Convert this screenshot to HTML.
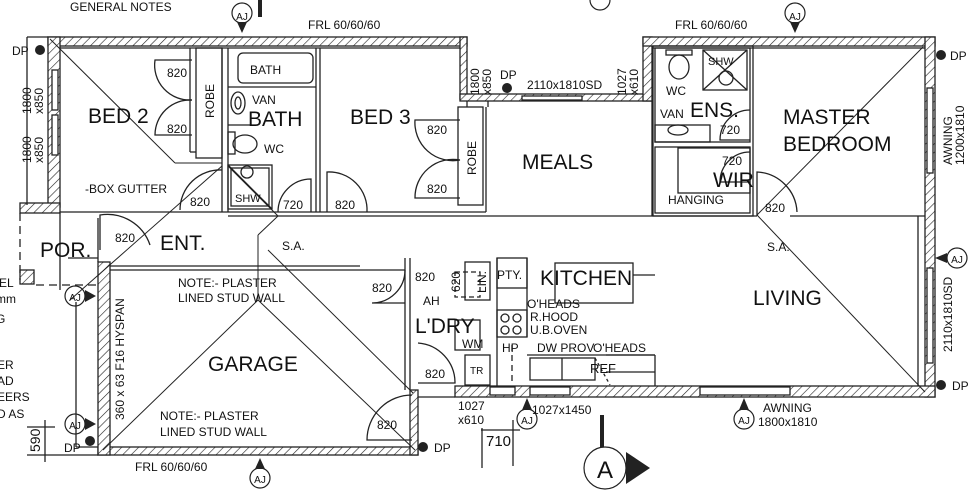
<!DOCTYPE html>
<html><head><meta charset="utf-8"><style>
html,body{margin:0;padding:0;background:#fff;width:976px;height:500px;overflow:hidden}
svg text{font-family:"Liberation Sans",sans-serif;fill:#111}
</style></head><body>
<svg width="976" height="500" viewBox="0 0 976 500" xmlns="http://www.w3.org/2000/svg">
<defs>
<pattern id="h" width="6" height="6" patternUnits="userSpaceOnUse" patternTransform="rotate(45)">
<rect width="6" height="6" fill="#fff"/><line x1="0" y1="0" x2="0" y2="6" stroke="#222" stroke-width="1.2"/></pattern>
</defs>
<g stroke="#222" fill="none" stroke-width="1.3">
<rect x="48" y="37" width="419" height="9" fill="url(#h)"/>
<rect x="48" y="37" width="12" height="170" fill="url(#h)"/>
<rect x="460" y="37" width="7" height="62" fill="url(#h)"/>
<rect x="460" y="94" width="192" height="7" fill="url(#h)"/>
<rect x="643" y="37" width="9" height="64" fill="url(#h)"/>
<rect x="643" y="37" width="292" height="9" fill="url(#h)"/>
<rect x="925" y="37" width="10" height="360" fill="url(#h)"/>
<rect x="455" y="386" width="480" height="11" fill="url(#h)"/>
<rect x="98" y="447" width="320" height="8" fill="url(#h)"/>
<rect x="98" y="262" width="12" height="193" fill="url(#h)"/>
<rect x="410" y="390" width="8" height="65" fill="url(#h)"/>
<rect x="20" y="203" width="40" height="10" fill="url(#h)"/>
<rect x="20" y="270" width="14" height="14" fill="url(#h)"/>
<g fill="#fff">
<rect x="52" y="70" width="6" height="40"/><rect x="52" y="115" width="6" height="40"/>
<rect x="927" y="88" width="6" height="85"/><rect x="927" y="268" width="6" height="95"/>
<rect x="522" y="96" width="60" height="4"/>
<rect x="530" y="387" width="40" height="8"/><rect x="700" y="387" width="90" height="8"/>
<rect x="490" y="387" width="25" height="8"/>
</g>
<line x1="27" y1="37" x2="27" y2="205"/>
<line x1="27" y1="37" x2="48" y2="37"/>
<line x1="76" y1="302" x2="76" y2="447"/><line x1="76" y1="447" x2="98" y2="447"/>
<line x1="418" y1="397" x2="455" y2="397"/>
<line x1="60" y1="48" x2="460" y2="48"/>
<line x1="60" y1="212" x2="228" y2="212"/>
<rect x="196" y="48" width="26" height="110"/>
<line x1="190" y1="48" x2="190" y2="152"/>
<line x1="190" y1="152" x2="196" y2="152"/>
<line x1="222" y1="48" x2="222" y2="212"/><line x1="228" y1="48" x2="228" y2="212"/>
<line x1="316" y1="48" x2="316" y2="212"/><line x1="320" y1="48" x2="320" y2="212"/>
<line x1="228" y1="212" x2="486" y2="212"/><line x1="228" y1="216" x2="757" y2="216"/>
<line x1="790" y1="216" x2="925" y2="216"/>
<rect x="458" y="107" width="25" height="98"/>
<line x1="486" y1="107" x2="486" y2="212"/><line x1="488" y1="107" x2="488" y2="101"/>
<line x1="467" y1="101" x2="467" y2="107"/>
<rect x="238" y="53" width="75" height="30" rx="5"/>
<line x1="228" y1="87" x2="316" y2="87"/>
<ellipse cx="238" cy="103" rx="7" ry="11"/><ellipse cx="238" cy="103" rx="3" ry="6"/>
<line x1="228" y1="125" x2="252" y2="125"/>
<rect x="228" y="132" width="7" height="22"/><ellipse cx="245" cy="144" rx="12" ry="9"/>
<rect x="228" y="165" width="44" height="44"/><rect x="231" y="168" width="38" height="38"/>
<circle cx="247" cy="172" r="6"/><line x1="228" y1="165" x2="272" y2="209"/>
<path d="M192 60 H155 A35 35 0 0 0 192 100"/><path d="M192 135 H155 A35 35 0 0 1 192 100"/>
<path d="M460 120 H415 A38 38 0 0 0 460 160"/><path d="M460 198 H415 A38 38 0 0 1 460 160"/>
<path d="M222 170 A40 40 0 0 0 180 210"/>
<path d="M278 212 A33 33 0 0 1 311 179 V212"/>
<path d="M327 212 V172 A38 38 0 0 1 367 212"/>
<path d="M100 250 V215 A45 45 0 0 1 150 245"/>
<path d="M405 270 A33 33 0 0 1 372 303 H405"/>
<path d="M418 343 A40 40 0 0 1 455 383 H418"/>
<path d="M412 395 A45 45 0 0 0 367 440 H412"/>
<path d="M750 152 A30 30 0 0 0 720 182 H750"/>
<path d="M750 110 A30 30 0 0 0 720 140 H750"/>
<path d="M757 216 V172 A42 42 0 0 1 797 212"/>
<line x1="652" y1="48" x2="925" y2="48"/>
<rect x="655" y="48" width="95" height="94"/><rect x="655" y="147" width="95" height="66"/>
<rect x="653" y="46" width="100" height="170"/>
<rect x="703" y="50" width="44" height="40"/><line x1="703" y1="90" x2="747" y2="50"/><line x1="703" y1="50" x2="747" y2="90"/>
<circle cx="726" cy="78" r="7"/>
<rect x="666" y="50" width="26" height="5"/><ellipse cx="679" cy="67" rx="10" ry="12"/>
<rect x="655" y="125" width="55" height="17"/><ellipse cx="678" cy="130" rx="10" ry="5"/>
<rect x="678" y="148" width="72" height="45"/>
<line x1="652" y1="101" x2="652" y2="216"/>
<line x1="918" y1="216" x2="918" y2="386"/>
<line x1="110" y1="270" x2="405" y2="270"/>
<line x1="110" y1="266" x2="360" y2="266"/>
<line x1="60" y1="213" x2="60" y2="290"/>
<line x1="98" y1="218" x2="98" y2="262"/>
<line x1="68" y1="258" x2="98" y2="258"/>
<line x1="36" y1="285" x2="98" y2="285" stroke-dasharray="8 5"/>
<line x1="20" y1="213" x2="20" y2="280" stroke-dasharray="8 5"/>
<line x1="405" y1="258" x2="405" y2="390"/><line x1="410" y1="258" x2="410" y2="390"/>
<rect x="465" y="262" width="25" height="38"/>
<rect x="497" y="258" width="30" height="30"/>
<line x1="497" y1="258" x2="497" y2="386"/><line x1="527" y1="258" x2="527" y2="337"/>
<rect x="497" y="310" width="30" height="27"/>
<circle cx="505" cy="318" r="4"/><circle cx="517" cy="318" r="4"/><circle cx="505" cy="330" r="4"/><circle cx="517" cy="330" r="4"/>
<line x1="512" y1="345" x2="512" y2="384" stroke-dasharray="6 4"/>
<line x1="527" y1="355" x2="655" y2="355"/>
<rect x="530" y="358" width="65" height="22"/><line x1="562" y1="358" x2="562" y2="380"/>
<line x1="595" y1="358" x2="610" y2="385" stroke-dasharray="3 3"/>
<path d="M606 355 H655 M606 372 H655 M655 355 V386" />
<rect x="555" y="263" width="78" height="40"/>
<line x1="633" y1="275" x2="655" y2="275"/>
<rect x="455" y="320" width="25" height="30"/><rect x="465" y="355" width="25" height="30"/>
<rect x="455" y="272" width="25" height="25" stroke-dasharray="5 3"/>
<!-- dims -->
<line x1="27" y1="427" x2="55" y2="427"/><line x1="27" y1="455" x2="98" y2="455"/><line x1="45" y1="420" x2="45" y2="462"/>
<line x1="481" y1="430" x2="520" y2="430"/><line x1="482" y1="428" x2="482" y2="468"/><line x1="513" y1="420" x2="513" y2="466"/>
<g stroke-width="1">
<line x1="50" y1="39" x2="175" y2="163"/><line x1="175" y1="163" x2="222" y2="163"/>
<line x1="222" y1="166" x2="70" y2="300"/>
<line x1="228" y1="166" x2="278" y2="216"/>
<line x1="278" y1="216" x2="258" y2="235"/><line x1="258" y1="235" x2="258" y2="300"/>
<line x1="268" y1="250" x2="413" y2="393"/>
<line x1="258" y1="300" x2="103" y2="450"/><line x1="258" y1="300" x2="415" y2="450"/>
<line x1="923" y1="47" x2="757" y2="215"/><line x1="757" y1="215" x2="925" y2="392"/>
</g>
</g>
<g fill="#222"><circle cx="40" cy="50" r="5"/><circle cx="507" cy="88" r="5"/><circle cx="941" cy="55" r="5"/>
<circle cx="941" cy="385" r="5"/><circle cx="423" cy="447" r="5"/><circle cx="90" cy="441" r="5"/></g>
<g stroke="#222" fill="none" stroke-width="1.2">
<circle cx="242" cy="13" r="10"/><circle cx="795" cy="13" r="10"/><circle cx="957" cy="258" r="10"/>
<circle cx="75" cy="296" r="10"/><circle cx="75" cy="424" r="10"/><circle cx="260" cy="478" r="10"/>
<circle cx="527" cy="419" r="10"/><circle cx="744" cy="419" r="10"/>
<circle cx="605" cy="468" r="21"/>
</g>
<g fill="#222"><polygon points="237,22 247,22 242,33"/><polygon points="790,22 800,22 795,33"/>
<polygon points="947,253 947,263 935,258"/><polygon points="85,290 85,302 96,296"/><polygon points="85,418 85,430 96,424"/>
<polygon points="255,469 265,469 260,458"/><polygon points="522,410 532,410 527,398"/><polygon points="739,410 749,410 744,398"/>
<polygon points="626,452 650,468 626,484"/>
<rect x="258" y="0" width="4" height="17"/><rect x="600" y="415" width="4" height="32"/>
</g>
<circle cx="600" cy="0" r="10" stroke="#222" fill="none" stroke-width="1.2"/>
<g font-size="12">
<text x="70" y="11">GENERAL NOTES</text>
<text x="308" y="29">FRL 60/60/60</text><text x="675" y="29">FRL 60/60/60</text>
<text x="135" y="471">FRL 60/60/60</text>
<text x="12" y="55">DP</text><text x="500" y="79">DP</text><text x="950" y="60">DP</text>
<text x="952" y="390">DP</text><text x="434" y="452">DP</text><text x="64" y="452">DP</text>
<text x="527" y="89">2110x1810SD</text>
<text x="85" y="193">-BOX GUTTER</text>
<text x="593" y="352">O'HEADS</text><text x="537" y="352">DW PROV</text>
<text x="590" y="373" font-size="13">REF</text>
<text x="527" y="308">O'HEADS</text><text x="530" y="321">R.HOOD</text><text x="530" y="334">U.B.OVEN</text>
<text x="502" y="352">HP</text><text x="497" y="279">PTY.</text>
<text x="462" y="348">WM</text><text x="470" y="374" font-size="10">TR</text>
<text x="423" y="305">AH</text>
<text x="178" y="287">NOTE:- PLASTER</text><text x="178" y="302">LINED STUD WALL</text>
<text x="160" y="420">NOTE:- PLASTER</text><text x="160" y="436">LINED STUD WALL</text>
<text x="458" y="410">1027</text><text x="458" y="424">x610</text>
<text x="532" y="414">1027x1450</text>
<text x="763" y="412">AWNING</text><text x="758" y="426">1800x1810</text>
<text x="668" y="204">HANGING</text>
<text x="250" y="74">BATH</text><text x="252" y="104">VAN</text><text x="264" y="153">WC</text>
<text x="235" y="202" font-size="11">SHW</text>
<text x="708" y="65" font-size="11">SHW</text><text x="666" y="95">WC</text><text x="660" y="118">VAN</text>
<text x="283" y="209">720</text><text x="720" y="134">720</text><text x="722" y="165">720</text>
<text x="167" y="77">820</text><text x="167" y="133">820</text><text x="427" y="134">820</text><text x="427" y="193">820</text>
<text x="190" y="206">820</text><text x="335" y="209">820</text><text x="115" y="242">820</text>
<text x="372" y="292">820</text><text x="425" y="378">820</text><text x="377" y="429">820</text><text x="765" y="212">820</text>
<text x="415" y="281">820</text>
<text x="282" y="250">S.A.</text><text x="767" y="251">S.A.</text>
<text x="486" y="446" font-size="15">710</text>
<text x="-1" y="287">EL</text><text x="-4" y="303">mm</text><text x="-4" y="323">G</text>
<text x="-3" y="369">ER</text><text x="-3" y="385">AD</text><text x="-3" y="401">EERS</text><text x="-3" y="418">D AS</text>
<text x="242" y="20" font-size="10" text-anchor="middle">AJ</text><text x="795" y="20" font-size="10" text-anchor="middle">AJ</text>
<text x="957" y="263" font-size="10" text-anchor="middle">AJ</text><text x="75" y="301" font-size="10" text-anchor="middle">AJ</text>
<text x="75" y="429" font-size="10" text-anchor="middle">AJ</text><text x="260" y="483" font-size="10" text-anchor="middle">AJ</text>
<text x="527" y="424" font-size="10" text-anchor="middle">AJ</text><text x="744" y="424" font-size="10" text-anchor="middle">AJ</text>
</g>
<g font-size="12">
<text transform="translate(214,118) rotate(-90)">ROBE</text>
<text transform="translate(476,175) rotate(-90)">ROBE</text>
<text transform="translate(31,114) rotate(-90)">1800</text><text transform="translate(43,114) rotate(-90)">x850</text>
<text transform="translate(31,163) rotate(-90)">1800</text><text transform="translate(43,163) rotate(-90)">x850</text>
<text transform="translate(479,95) rotate(-90)">1800</text><text transform="translate(491,95) rotate(-90)">x850</text>
<text transform="translate(626,95) rotate(-90)">1027</text><text transform="translate(638,95) rotate(-90)">x610</text>
<text transform="translate(952,165) rotate(-90)">AWNING</text><text transform="translate(964,165) rotate(-90)">1200x1810</text>
<text transform="translate(952,352) rotate(-90)">2110x1810SD</text>
<text transform="translate(124,420) rotate(-90)">360 x 63 F16 HYSPAN</text>
<text transform="translate(486,293) rotate(-90)">LIN.</text>
<text transform="translate(460,292) rotate(-90)">620</text>
<text transform="translate(40,452) rotate(-90)" font-size="14">590</text>
</g>
<g font-size="21">
<text x="88" y="123">BED 2</text><text x="248" y="126">BATH</text><text x="350" y="124">BED 3</text>
<text x="522" y="169">MEALS</text><text x="690" y="117">ENS.</text>
<text x="783" y="124">MASTER</text><text x="783" y="151">BEDROOM</text>
<text x="713" y="187">WIR</text>
<text x="40" y="257">POR.</text><text x="160" y="250">ENT.</text>
<text x="540" y="285">KITCHEN</text><text x="753" y="305">LIVING</text>
<text x="415" y="333">L'DRY</text><text x="208" y="371">GARAGE</text>
<text x="605" y="478" font-size="24" text-anchor="middle">A</text>
</g>
</svg>
</body></html>
